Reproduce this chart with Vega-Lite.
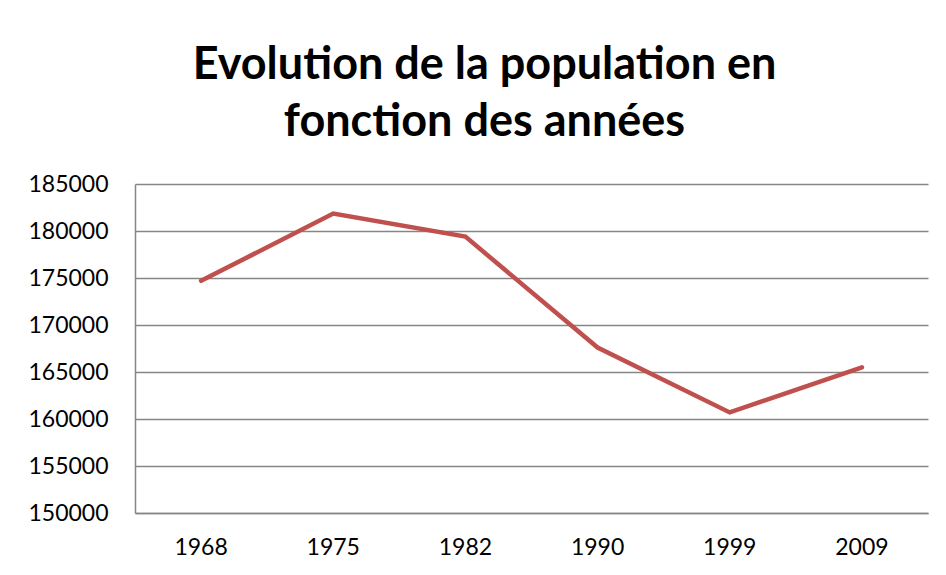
{
  "$schema": "https://vega.github.io/schema/vega-lite/v6.json",
  "autosize": {"type": "none"},
  "width": 793,
  "height": 329,
  "padding": {"left": 135, "top": 184, "right": 18, "bottom": 62},
  "background": "white",
  "title": {
    "text": ["Evolution de la population en", "fonction des années"],
    "font": "Lato",
    "fontSize": 45,
    "fontWeight": "bold",
    "color": "#000000",
    "lineHeight": 57,
    "anchor": "middle",
    "frame": "group",
    "dx": -47,
    "baseline": "alphabetic",
    "offset": -8
  },
  "data": {
    "values": [
      {"annee": "1968", "population": 174700},
      {"annee": "1975", "population": 181850},
      {"annee": "1982", "population": 179400},
      {"annee": "1990", "population": 167600},
      {"annee": "1999", "population": 160700},
      {"annee": "2009", "population": 165500}
    ]
  },
  "mark": {"type": "line", "color": "#C0504D", "strokeWidth": 4.5, "strokeCap": "round", "strokeJoin": "miter"},
  "encoding": {
    "x": {
      "field": "annee",
      "type": "ordinal",
      "sort": null,
      "scale": {"type": "band", "paddingInner": 0, "paddingOuter": 0},
      "axis": {
        "title": null,
        "labelAngle": 0,
        "labelFont": "Lato",
        "labelFontSize": 23,
        "labelColor": "#000000",
        "labelPadding": 23,
        "ticks": false,
        "domainColor": "#868686",
        "domainWidth": 1.5,
        "grid": false
      }
    },
    "y": {
      "field": "population",
      "type": "quantitative",
      "scale": {"domain": [150000, 185000], "nice": false, "zero": false},
      "axis": {
        "title": null,
        "values": [150000, 155000, 160000, 165000, 170000, 175000, 180000, 185000],
        "format": "d",
        "labelFont": "Lato",
        "labelFontSize": 23,
        "labelColor": "#000000",
        "labelPadding": 27,
        "ticks": false,
        "domainColor": "#868686",
        "domainWidth": 1.5,
        "gridColor": "#868686",
        "gridWidth": 1.5
      }
    }
  },
  "config": {"view": {"stroke": null}}
}
